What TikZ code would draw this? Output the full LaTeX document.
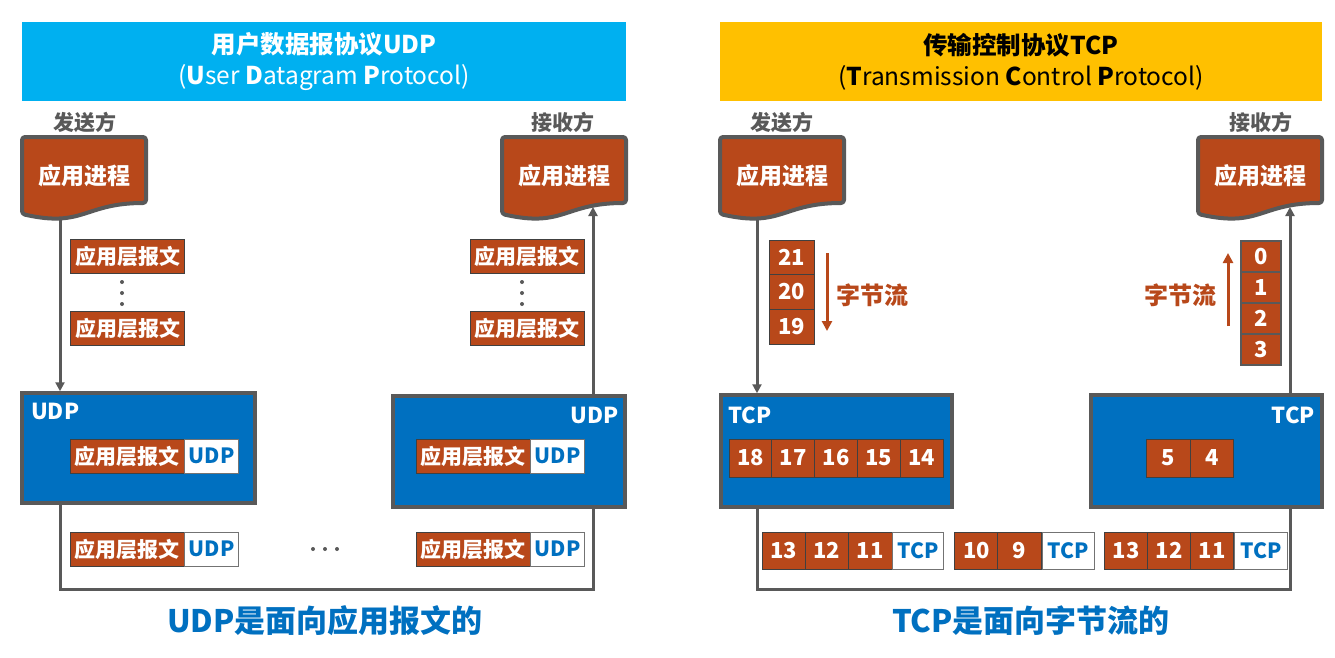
\documentclass[tikz,border=0pt]{standalone}
\usepackage{fontspec}
\setmainfont{Noto Sans CJK SC}
\usetikzlibrary{arrows.meta, positioning}

\definecolor{procbrown}{RGB}{184,72,26}
\definecolor{layerblue}{RGB}{0,112,192}
\definecolor{headcyan}{RGB}{0,176,240}
\definecolor{headgold}{RGB}{255,192,0}
\definecolor{linegray}{RGB}{89,89,89}

% application process: document shape with wavy bottom (left x, top y)
\newcommand{\appdoc}[2]{%
  \draw[docshape] (#1,#2) -- ({#1+124},#2) -- ({#1+124},{#2+66})
    .. controls ({#1+62},{#2+66}) and ({#1+62},{#2+91}) .. (#1,{#2+77}) -- cycle;}

\begin{document}
\begin{tikzpicture}[x=1pt, y=-1pt,
    headbar/.style={minimum height=79, inner sep=0, align=center,
      font=\fontsize{24.5}{31}\selectfont},
    side/.style={text=linegray, font=\fontsize{21}{25}\selectfont\bfseries},
    docshape/.style={draw=linegray, line width=4, fill=procbrown,
      rounded corners=3, line join=round},
    apptext/.style={text=white, font=\fontsize{23}{27}\selectfont\bfseries},
    layerbox/.style={draw=linegray, line width=3.5, fill=layerblue},
    boxtag/.style={text=white, inner sep=0, font=\fontsize{22}{26}\selectfont\bfseries},
    msg/.style={draw=black!75, line width=0.8, fill=procbrown, text=white,
      minimum width=114, minimum height=34, inner sep=0,
      font=\fontsize{21}{25}\selectfont\bfseries},
    hdr/.style={draw=black!55, line width=0.8, fill=white, text=layerblue,
      minimum width=54, minimum height=34, inner sep=0,
      font=\fontsize{21}{25}\selectfont\bfseries},
    byte/.style={draw=black!75, line width=0.8, fill=procbrown, text=white,
      minimum width=43.3, minimum height=37, inner sep=0,
      font=\fontsize{22}{26}\selectfont\bfseries},
    flow/.style={draw=linegray, line width=3, -{Triangle[length=9pt,width=9pt]}},
    pipe/.style={draw=linegray, line width=3},
    stream/.style={draw=procbrown, line width=3, -{Triangle[length=10pt,width=10pt]}},
    streamtext/.style={text=procbrown, font=\fontsize{24}{28}\selectfont\bfseries},
    verdict/.style={text=layerblue, font=\fontsize{31}{36}\selectfont\bfseries}
  ]
  \useasboundingbox (0,0) rectangle (1335,657);
  \fill[white] (0,0) rectangle (1335,657);

  % ---------------- UDP ----------------
  \node[headbar, fill=headcyan, text=white, minimum width=604] (udpHead) at (324,61.5)
    {\textbf{用户数据报协议UDP}\\(\textbf{U}ser \textbf{D}atagram \textbf{P}rotocol)};
  \node[side] (udpSndSide) at (85,122) {发送方};
  \node[side] (udpRcvSide) at (563,122) {接收方};

  \appdoc{22}{137}
  \node[apptext] (udpSndApp) at (84,176) {应用进程};
  \appdoc{502}{137}
  \node[apptext] (udpRcvApp) at (564,176) {应用进程};

  % messages waiting above the layer
  \node[msg] (udpSndM1) at (127.5,256.5) {应用层报文};
  \node[msg] (udpSndM2) at (127.5,328.5) {应用层报文};
  \node[msg] (udpRcvM1) at (527,256.5) {应用层报文};
  \node[msg] (udpRcvM2) at (527,328.5) {应用层报文};
  \foreach \dy in {282,293,304} {
    \fill[linegray] (122,\dy) circle (2);
    \fill[linegray] (522,\dy) circle (2);
  }

  % UDP layer boxes
  \node[layerbox, minimum width=233, minimum height=110] (udpSnd) at (138.5,448) {};
  \node[layerbox, minimum width=232, minimum height=111] (udpRcv) at (509,451.5) {};
  \node[boxtag, anchor=base west] (udpSndTag) at (31,419) {UDP};
  \node[boxtag, anchor=base east] (udpRcvTag) at (619,423) {UDP};
  \node[msg] (udpSndIn) at (127,456) {应用层报文};
  \node[hdr, right=0pt of udpSndIn] (udpSndInH) {UDP};
  \node[msg] (udpRcvIn) at (473,456) {应用层报文};
  \node[hdr, right=0pt of udpRcvIn] (udpRcvInH) {UDP};

  % datagrams on the way
  \node[msg] (udpWire1) at (127,549) {应用层报文};
  \node[hdr, right=0pt of udpWire1] (udpWire1H) {UDP};
  \node[msg] (udpWire2) at (473,549) {应用层报文};
  \node[hdr, right=0pt of udpWire2] (udpWire2H) {UDP};
  \foreach \dx in {313,325,337}
    \fill[linegray] (\dx,549) circle (2);

  \coordinate (udpSndOut) at (60,218);
  \coordinate (udpRcvArr) at (593,207);
  \coordinate (udpLoop) at (593,589);
  \draw[flow] (udpSndOut) -- (udpSnd.north -| udpSndOut);
  \draw[flow] (udpRcv.north -| udpRcvArr) -- (udpRcvArr);
  \draw[pipe] (udpSnd.south -| udpSndOut) |- (udpLoop) -- (udpRcv.south -| udpLoop);

  \node[verdict] (udpNote) at (325,621) {UDP是面向应用报文的};

  % ---------------- TCP ----------------
  \node[headbar, fill=headgold, text=black, minimum width=602] (tcpHead) at (1021,61.5)
    {\textbf{传输控制协议TCP}\\(\textbf{T}ransmission \textbf{C}ontrol \textbf{P}rotocol)};
  \node[side] (tcpSndSide) at (782,122) {发送方};
  \node[side] (tcpRcvSide) at (1261,122) {接收方};

  \appdoc{720}{137}
  \node[apptext] (tcpSndApp) at (782,176) {应用进程};
  \appdoc{1198}{137}
  \node[apptext] (tcpRcvApp) at (1260,176) {应用进程};

  % byte streams
  \foreach \n [count=\i from 0] in {21,20,19}
    \node[byte, minimum width=45, minimum height=34.7] (sndQ\n) at (791.5,257.3+34.7*\i) {\n};
  \foreach \n [count=\i from 0] in {0,1,2,3}
    \node[byte, draw=linegray, line width=2.5, minimum width=40, minimum height=31]
      (rcvQ\n) at (1261,256.5+31*\i) {\n};
  \coordinate (sndStreamA) at (827,253);
  \coordinate (sndStreamB) at (827,331);
  \coordinate (rcvStreamA) at (1228,326);
  \coordinate (rcvStreamB) at (1228,253);
  \draw[stream] (sndStreamA) -- (sndStreamB);
  \draw[stream] (rcvStreamA) -- (rcvStreamB);
  \node[streamtext] (sndStreamTxt) at (872.5,295) {字节流};
  \node[streamtext] (rcvStreamTxt) at (1180,295) {字节流};

  % TCP layer boxes
  \node[layerbox, minimum width=231, minimum height=112] (tcpSnd) at (836.5,451) {};
  \node[layerbox, minimum width=231, minimum height=112] (tcpRcv) at (1206.5,451) {};
  \node[boxtag, anchor=base west] (tcpSndTag) at (728,423) {TCP};
  \node[boxtag, anchor=base east] (tcpRcvTag) at (1315,423) {TCP};
  \foreach \n [count=\i from 0] in {18,17,16,15,14}
    \node[byte, minimum width=42.8, minimum height=38] (sndB\n) at (750.4+42.8*\i,458) {\n};
  \foreach \n [count=\i from 0] in {5,4}
    \node[byte, minimum width=43.5, minimum height=38] (rcvB\n) at (1168.5+43.5*\i,458) {\n};

  % segments on the way
  \foreach \n [count=\i from 0] in {13,12,11}
    \node[byte] (segA\n) at (783.65+43.3*\i,550.5) {\n};
  \node[hdr, minimum width=51, minimum height=37, right=0pt of segA11] (segAH) {TCP};
  \foreach \n [count=\i from 0] in {10,9}
    \node[byte] (segB\n) at (976.5+43*\i,550.5) {\n};
  \node[hdr, minimum width=52, minimum height=37, right=0pt of segB9] (segBH) {TCP};
  \foreach \n [count=\i from 0] in {13,12,11}
    \node[byte] (segC\n) at (1126+43*\i,550.5) {\n};
  \node[hdr, minimum width=53, minimum height=37, right=0pt of segC11] (segCH) {TCP};

  \coordinate (tcpSndOut) at (757,218);
  \coordinate (tcpRcvArr) at (1290,207);
  \coordinate (tcpLoop) at (1290,589);
  \draw[flow] (tcpSndOut) -- (tcpSnd.north -| tcpSndOut);
  \draw[flow] (tcpRcv.north -| tcpRcvArr) -- (tcpRcvArr);
  \draw[pipe] (tcpSnd.south -| tcpSndOut) |- (tcpLoop) -- (tcpRcv.south -| tcpLoop);

  \node[verdict] (tcpNote) at (1031,621) {TCP是面向字节流的};
\end{tikzpicture}
\end{document}
